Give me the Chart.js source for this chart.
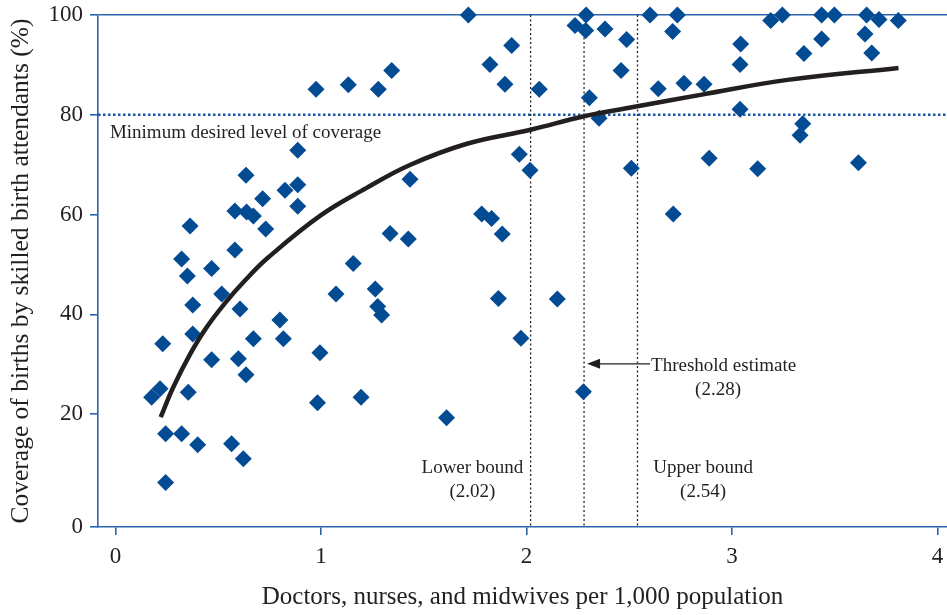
<!DOCTYPE html>
<html>
<head>
<meta charset="utf-8">
<script src="https://cdn.jsdelivr.net/npm/chart.js@4.4.1/dist/chart.umd.min.js"></script>
<style>
  body { margin: 0; background: #fff; }
  #wrap { width: 947px; height: 615px; position: relative; }
</style>
</head>
<body>
<div id="wrap"><canvas id="myChart"></canvas></div>
<script>
//Données des pays (x = personnel pour 1000 hab., y = couverture %)
let densite = [
    0.976, 0.887, 0.635, 0.716, 0.825, 0.887, 0.887, 0.581, 0.638, 0.671,
    0.363, 0.731, 0.581, 0.322, 0.468, 0.35, 0.517, 0.376, 0.606, 0.8,
    0.376, 0.671, 0.817, 0.23, 0.995, 0.468, 0.598, 0.635, 0.176, 0.217,
    0.354, 0.983, 0.244, 0.322, 0.4, 0.565, 0.622, 0.244, 1.717, 1.133,
    1.279, 1.344, 1.928, 1.822, 1.895, 2.062, 2.29, 2.236, 2.288, 2.382,
    2.487, 2.46, 2.306, 2.353, 1.965, 2.017, 1.433, 2.51, 2.601, 2.734,
    2.711, 2.641, 2.766, 2.864, 3.042, 3.039, 3.039, 3.188, 3.245, 3.436,
    3.498, 3.655, 3.715, 3.809, 3.647, 3.436, 3.35, 3.68, 3.344, 3.331,
    2.889, 3.125, 3.615, 2.714, 1.782, 1.83, 1.882, 1.336, 1.425, 1.157,
    1.073, 1.264, 1.276, 1.295, 1.863, 2.15, 1.973, 2.277, 1.195, 1.611
];
let couverture = [
    85.1, 72.9, 67.9, 63.2, 64.9, 66.0, 61.7, 60.7, 60.5, 59.7,
    57.7, 57.1, 52.9, 51.1, 49.2, 47.7, 44.1, 41.9, 41.1, 38.9,
    36.1, 35.1, 35.1, 34.1, 32.3, 30.9, 31.1, 27.9, 23.4, 25.1,
    24.4, 22.3, 16.1, 16.1, 13.9, 14.1, 11.1, 6.3, 100, 86,
    85.1, 88.9, 93.9, 90.1, 86.1, 85.1, 100, 97.9, 96.9, 97.2,
    95.1, 88.9, 83.4, 79.3, 72.1, 68.9, 67.1, 69.3, 100, 100,
    96.7, 85.2, 86.3, 86.1, 94.2, 90.1, 81.1, 98.9, 100, 100,
    100, 100, 99.1, 98.9, 96.2, 95.2, 92.3, 92.4, 78.2, 75.9,
    71.3, 69.2, 70.4, 60.1, 60.1, 59.2, 56.1, 56.2, 55.1, 50.2,
    44.1, 45.1, 41.6, 39.9, 43.2, 43.1, 35.2, 24.5, 23.4, 19.3
];

//Courbe ajustée
let courbeX = [0.22, 0.28, 0.36, 0.44, 0.54, 0.63, 0.74, 1.0, 1.22, 1.43, 1.71, 2.02, 2.28, 2.5, 2.86, 3.27, 3.81];
let courbeY = [19.4, 25.3, 31.8, 37.2, 42.6, 46.8, 51.3, 59.9, 65.3, 69.9, 74.2, 77.0, 79.7, 81.4, 84.1, 87.0, 89.4];

//Seuils
let niveauMin = 80;
let bornes = [2.02, 2.28, 2.54];

//Graduations
let xTicks = [0, 1, 2, 3, 4];
let yTicks = [0, 20, 40, 60, 80, 100];

let bleuAxe = '#2b64ad';
let bleuPoint = '#034b93';
let texte = '#231f20';
let police = '"Liberation Serif", "DejaVu Serif", serif';

let points = [];
for (let i = 0; i < densite.length; i++) {
    points.push({ x: densite[i], y: couverture[i] });
}
let courbe = [];
for (let i = 0; i < courbeX.length; i++) {
    courbe.push({ x: courbeX[i], y: courbeY[i] });
}

const yMin = -2.6;

//Plugin: lignes de seuil, textes et flèche
const annotations = {
    id: 'annotations',
    beforeDatasetsDraw(chart) {
        const { ctx, chartArea, scales: { x, y } } = chart;
        ctx.save();
        // ligne horizontale 80 %
        let py = y.getPixelForValue(niveauMin);
        ctx.strokeStyle = '#1a58a6';
        ctx.lineWidth = 2.5;
        ctx.setLineDash([2.5, 2.5]);
        ctx.beginPath();
        ctx.moveTo(chartArea.left, py);
        ctx.lineTo(chartArea.right, py);
        ctx.stroke();
        // lignes verticales
        ctx.strokeStyle = '#222';
        ctx.lineWidth = 1.3;
        ctx.setLineDash([2, 2.5]);
        bornes.forEach(function (b) {
            let px = x.getPixelForValue(b);
            ctx.beginPath();
            ctx.moveTo(px, chartArea.top);
            ctx.lineTo(px, chartArea.bottom);
            ctx.stroke();
        });
        ctx.restore();
    },
    afterDatasetsDraw(chart) {
        const { ctx, scales: { x, y } } = chart;
        ctx.save();
        ctx.fillStyle = texte;
        ctx.font = '19px ' + police;
        ctx.textBaseline = 'middle';

        ctx.textAlign = 'left';
        ctx.fillText('Minimum desired level of coverage', x.getPixelForValue(-0.027), y.getPixelForValue(76.4));
        ctx.fillText('Threshold estimate', x.getPixelForValue(2.606), y.getPixelForValue(29.7));

        ctx.textAlign = 'center';
        ctx.fillText('(' + bornes[1].toFixed(2) + ')', x.getPixelForValue(2.932), y.getPixelForValue(24.8));
        ctx.fillText('Lower bound', x.getPixelForValue(1.737), y.getPixelForValue(9.2));
        ctx.fillText('(' + bornes[0].toFixed(2) + ')', x.getPixelForValue(1.737), y.getPixelForValue(4.4));
        ctx.fillText('Upper bound', x.getPixelForValue(2.859), y.getPixelForValue(9.2));
        ctx.fillText('(' + bornes[2].toFixed(2) + ')', x.getPixelForValue(2.859), y.getPixelForValue(4.4));

        // flèche vers le seuil
        let ay = y.getPixelForValue(30.1);
        let x1 = x.getPixelForValue(2.606) - 1;
        let x0 = x.getPixelForValue(bornes[1]) + 3;
        ctx.strokeStyle = texte;
        ctx.lineWidth = 1.3;
        ctx.beginPath();
        ctx.moveTo(x1, ay);
        ctx.lineTo(x0 + 10, ay);
        ctx.stroke();
        ctx.beginPath();
        ctx.moveTo(x0, ay);
        ctx.lineTo(x0 + 13, ay - 5);
        ctx.lineTo(x0 + 13, ay + 5);
        ctx.closePath();
        ctx.fill();
        ctx.restore();
    }
};

//Graphique
const ctx = document.getElementById('myChart').getContext('2d');
const myChart = new Chart(ctx, {
    type: 'scatter',
    data: {
        datasets: [
            {
                type: 'line',
                data: courbe,
                borderColor: texte,
                borderWidth: 4.5,
                pointRadius: 0,
                tension: 0.4,
                fill: false,
                order: 0
            },
            {
                data: points,
                pointStyle: 'rectRot',
                pointRadius: 8.5,
                pointBackgroundColor: bleuPoint,
                pointBorderWidth: 0,
                clip: false,
                order: 1
            }
        ]
    },
    options: {
        responsive: true,
        maintainAspectRatio: false,
        animation: false,
        layout: { autoPadding: false, padding: { top: 15, right: 0, left: 0, bottom: 0 } },
        plugins: {
            legend: { display: false },
            tooltip: { enabled: false }
        },
        scales: {
            x: {
                type: 'linear',
                min: -0.085,
                max: 4.046,
                afterBuildTicks: (scale) => {
                    scale.ticks = xTicks.map(v => ({ value: v }));
                },
                afterFit: (scale) => {
                    scale.height = 88;
                    scale.paddingLeft = 0;
                    scale.paddingRight = 0;
                },
                border: { color: bleuAxe, width: 1.6 },
                grid: { drawOnChartArea: false, tickLength: 8, color: bleuAxe, lineWidth: 1.6 },
                ticks: {
                    color: texte,
                    padding: 8,
                    font: { family: police, size: 23 }
                },
                title: {
                    display: true,
                    text: 'Doctors, nurses, and midwives per 1,000 population',
                    color: texte,
                    padding: { top: 0, bottom: 3 },
                    font: { family: police, size: 25 }
                }
            },
            y: {
                min: yMin,
                max: 100,
                afterBuildTicks: (scale) => {
                    scale.ticks = yTicks.map(v => ({ value: v === 0 ? yMin : v }));
                },
                afterFit: (scale) => {
                    scale.width = 98;
                    scale.paddingTop = 0;
                    scale.paddingBottom = 0;
                },
                border: { color: bleuAxe, width: 1.6 },
                grid: {
                    color: (c) => (c.tick && c.tick.value === 100 ? bleuAxe : 'transparent'),
                    tickColor: bleuAxe,
                    tickLength: 8,
                    lineWidth: 1.6
                },
                ticks: {
                    color: texte,
                    padding: 7,
                    font: { family: police, size: 23 },
                    callback: (value) => (value < 0 ? '0' : value)
                },
                title: {
                    display: true,
                    text: 'Coverage of births by skilled birth attendants (%)',
                    color: texte,
                    padding: { top: 6, bottom: 0 },
                    font: { family: police, size: 25.5 }
                }
            }
        }
    },
    plugins: [annotations]
});
</script>
</body>
</html>
